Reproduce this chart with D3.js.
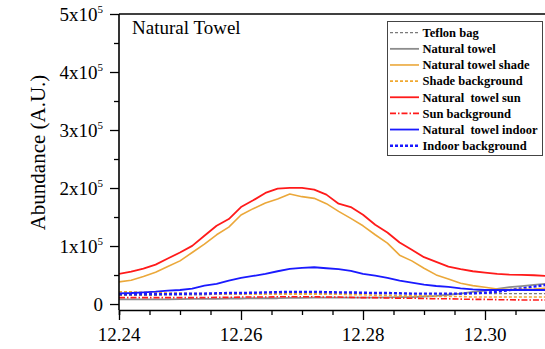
<!DOCTYPE html>
<html>
<head>
<meta charset="utf-8">
<script src="https://cdn.jsdelivr.net/npm/d3@7"></script>
<style>
  body { margin: 0; background: #fff; }
</style>
</head>
<body>
<div class="container"></div>
<script>
var width = 545,
    height = 349;

// retention time (min)
var rt = [12.240, 12.242, 12.244, 12.246, 12.248, 12.250, 12.252, 12.254, 12.256, 12.258,
          12.260, 12.262, 12.264, 12.266, 12.268, 12.270, 12.272, 12.274, 12.276, 12.278,
          12.280, 12.282, 12.284, 12.286, 12.288, 12.290, 12.292, 12.294, 12.296, 12.298,
          12.300, 12.302, 12.304, 12.306, 12.308, 12.310];

// abundance, in thousands
var teflonBag = [15, 15, 15, 15, 16, 16, 16, 16, 17, 17, 17, 17, 17, 18, 18, 18, 18, 18,
                 18, 18, 18, 18, 18, 18, 18, 18, 18, 18, 18, 18, 18, 18, 18, 18, 18, 18];
var naturalTowel = [8, 8, 8, 8, 8, 8.5, 9, 9, 9, 9.5, 9.5, 10, 10, 10, 10.5, 10.5, 11, 11,
                    11, 11, 11, 11, 11.5, 12, 12, 13, 14, 16, 18, 21, 23, 26, 29, 31, 33, 35];
var towelShade = [38.1, 41.0, 47.3, 54.8, 64.6, 74.4, 88.8, 103.2, 119.4, 132.6, 153.4, 164.4,
                  174.2, 181.1, 189.7, 185.1, 182.2, 173.0, 159.7, 147.6, 134.9, 119.4, 105.0, 84.2,
                  74.4, 61.7, 50.2, 43.3, 35.8, 31.7, 28.9, 26.0, 24.8, 25.4, 26.0, 27.1];
var shadeBg = [21, 21, 20, 20, 19, 19, 18, 18, 17, 17, 17, 17, 17, 17, 17, 17, 17, 17,
               17, 16, 16, 15, 15, 14, 14, 14, 13, 13, 13, 12, 12, 12, 12, 12, 12, 12];
var towelSun = [51.9, 55.9, 61.1, 68.0, 78.4, 88.8, 100.3, 117.6, 134.9, 146.5, 167.2, 178.8,
                191.5, 199.0, 200.1, 200.1, 197.2, 188.6, 173.0, 167.2, 154.0, 136.7, 123.4, 106.1,
                93.4, 80.7, 72.7, 64.6, 60.0, 56.5, 54.2, 51.9, 50.7, 50.2, 49.6, 48.4];
var sunBg = [11, 11, 11, 11, 11, 11, 11, 11, 11.5, 11.5, 12, 12, 12, 12.5, 12.5, 12.5, 12.5, 12,
             12, 11.5, 11, 11, 10.5, 10, 10, 9.5, 9, 9, 8.5, 8, 8, 7.5, 7.5, 7, 7, 7];
var towelIndoor = [18.5, 19.0, 20.2, 21.3, 23.1, 24.2, 26.5, 31.7, 34.6, 40.4, 45.0, 48.4,
                   51.9, 56.5, 60.6, 62.3, 63.4, 61.7, 60.0, 57.1, 51.9, 49.0, 45.0, 40.4,
                   36.9, 33.4, 31.1, 29.4, 27.1, 25.4, 24.2, 24.2, 24.2, 24.2, 24.2, 24.2];
var indoorBg = [17, 17, 17, 17, 17, 17.5, 18, 18, 18.5, 19, 19, 19.5, 20, 20.5, 21, 21, 21, 20.5,
                20, 20, 19.5, 19, 19, 18.5, 18, 18, 18, 18, 18, 18.5, 19.5, 21, 24, 27, 30, 33];

var xTicks = [12.24, 12.26, 12.28, 12.30];
var xTickLabels = ["12.24", "12.26", "12.28", "12.30"];
var yTicks = [0, 100000, 200000, 300000, 400000, 500000];
var yTickMantissa = ["0", "1", "2", "3", "4", "5"];

var series = [
  { name: "Teflon bag", values: teflonBag, color: "#7a7a7a", width: 1.3, dash: "3,2" },
  { name: "Natural towel", values: naturalTowel, color: "#8c8c8c", width: 1.8, dash: null },
  { name: "Shade background", values: shadeBg, color: "#f0a830", width: 1.6, dash: "3,2" },
  { name: "Sun background", values: sunBg, color: "#ff1a1a", width: 1.6, dash: "6,2,1.5,2" },
  { name: "Indoor background", values: indoorBg, color: "#1a1aff", width: 2.4, dash: "3,2" },
  { name: "Natural towel shade", values: towelShade, color: "#eba83a", width: 1.6, dash: null },
  { name: "Natural  towel sun", values: towelSun, color: "#ff1a1a", width: 1.8, dash: null },
  { name: "Natural  towel indoor", values: towelIndoor, color: "#1a1aff", width: 1.8, dash: null }
];
var legendOrder = ["Teflon bag", "Natural towel", "Natural towel shade", "Shade background",
                   "Natural  towel sun", "Sun background", "Natural  towel indoor", "Indoor background"];

var plot = { left: 119, top: 14, right: 546, bottom: 310 };
var serif = "Liberation Serif, Times New Roman, serif";

var x = d3.scaleLinear().domain([12.24, 12.31]).range([plot.left, plot.right]);
var y = d3.scaleLinear().domain([-10300, 500000]).range([plot.bottom, plot.top]);

var svg = d3.select(".container").append("svg")
    .attr("width", width)
    .attr("height", height)
    .style("font-family", serif);

svg.append("defs").append("clipPath")
    .attr("id", "clip")
  .append("rect")
    .attr("x", plot.left)
    .attr("y", plot.top)
    .attr("width", plot.right - plot.left)
    .attr("height", plot.bottom - plot.top);

// ---------- LINES ----------
var line = d3.line()
    .x(function(d, i) { return x(rt[i]); })
    .y(function(d) { return y(d * 1000); });

svg.append("g")
    .attr("clip-path", "url(#clip)")
  .selectAll("path")
  .data(series)
  .enter().append("path")
    .attr("fill", "none")
    .attr("stroke", function(d) { return d.color; })
    .attr("stroke-width", function(d) { return d.width; })
    .attr("stroke-dasharray", function(d) { return d.dash; })
    .attr("stroke-linejoin", "round")
    .attr("d", function(d) { return line(d.values); });

// ---------- AXES ----------
var xAxis = svg.append("g")
    .attr("transform", "translate(0," + plot.bottom + ")")
    .call(d3.axisBottom(x)
      .tickValues(d3.range(12.24, 12.3101, 0.005))
      .tickSize(5)
      .tickFormat(""));
xAxis.selectAll(".tick line")
    .attr("stroke-width", 1.3)
    .attr("y2", function(d) { return xTicks.some(function(t) { return Math.abs(t - d) < 1e-6; }) ? 10 : 5; });
xAxis.select(".domain").attr("stroke-width", 1.6);

var yAxis = svg.append("g")
    .attr("transform", "translate(" + plot.left + ",0)")
    .call(d3.axisLeft(y)
      .tickValues(d3.range(0, 500001, 50000))
      .tickSize(5)
      .tickFormat(""));
yAxis.selectAll(".tick line")
    .attr("stroke-width", 1.3)
    .attr("x2", function(d) { return d % 100000 === 0 ? -9 : -5; });
yAxis.select(".domain").attr("stroke-width", 1.6)
    .attr("d", "M0," + plot.top + "V" + plot.bottom);

// top frame line
svg.append("line")
    .attr("x1", plot.left).attr("x2", plot.right)
    .attr("y1", plot.top).attr("y2", plot.top)
    .attr("stroke", "#000")
    .attr("stroke-width", 1.6);

// x tick labels
svg.selectAll(".xlab")
  .data(xTicks)
  .enter().append("text")
    .attr("class", "xlab")
    .attr("x", function(d) { return x(d); })
    .attr("y", 341)
    .attr("text-anchor", "middle")
    .style("font-family", serif)
    .style("font-size", "19px")
    .text(function(d, i) { return xTickLabels[i]; });

// y tick labels with superscript
var ylab = svg.selectAll(".ylab")
  .data(yTicks)
  .enter().append("text")
    .attr("class", "ylab")
    .attr("x", 103)
    .attr("y", function(d) { return y(d) + 6.5; })
    .attr("text-anchor", "end")
    .style("font-family", serif)
    .style("font-size", "19px");
ylab.append("tspan")
    .text(function(d, i) { return d === 0 ? "0" : yTickMantissa[i] + "x10"; });
ylab.filter(function(d) { return d !== 0; })
  .append("tspan")
    .attr("dy", -8)
    .style("font-size", "11px")
    .text("5");

// axis title
svg.append("text")
    .attr("transform", "translate(45,152.5) rotate(-90)")
    .attr("text-anchor", "middle")
    .style("font-family", serif)
    .style("font-size", "21px")
    .text("Abundance (A.U.)");

// panel title
svg.append("text")
    .attr("x", 132)
    .attr("y", 33.5)
    .style("font-family", serif)
    .style("font-size", "19px")
    .text("Natural Towel");

// ---------- LEGEND ----------
var legend = svg.append("g");
legend.append("rect")
    .attr("x", 387.5)
    .attr("y", 21.5)
    .attr("width", 155)
    .attr("height", 134)
    .attr("fill", "#fff")
    .attr("stroke", "#444")
    .attr("stroke-width", 1);

var rows = legend.selectAll(".row")
  .data(legendOrder.map(function(n) { return series.find(function(s) { return s.name === n; }); }))
  .enter().append("g")
    .attr("class", "row")
    .attr("transform", function(d, i) { return "translate(0," + (32.7 + i * 16.14) + ")"; });
rows.append("line")
    .attr("x1", 390).attr("x2", 419)
    .attr("stroke", function(d) { return d.color; })
    .attr("stroke-width", function(d) { return d.width; })
    .attr("stroke-dasharray", function(d) { return d.dash; });
rows.append("text")
    .attr("x", 422.5)
    .attr("y", 4.3)
    .style("font-family", serif)
    .style("font-size", "12.5px")
    .style("font-weight", "bold")
    .style("white-space", "pre")
    .text(function(d) { return d.name; });
</script>
</body>
</html>
